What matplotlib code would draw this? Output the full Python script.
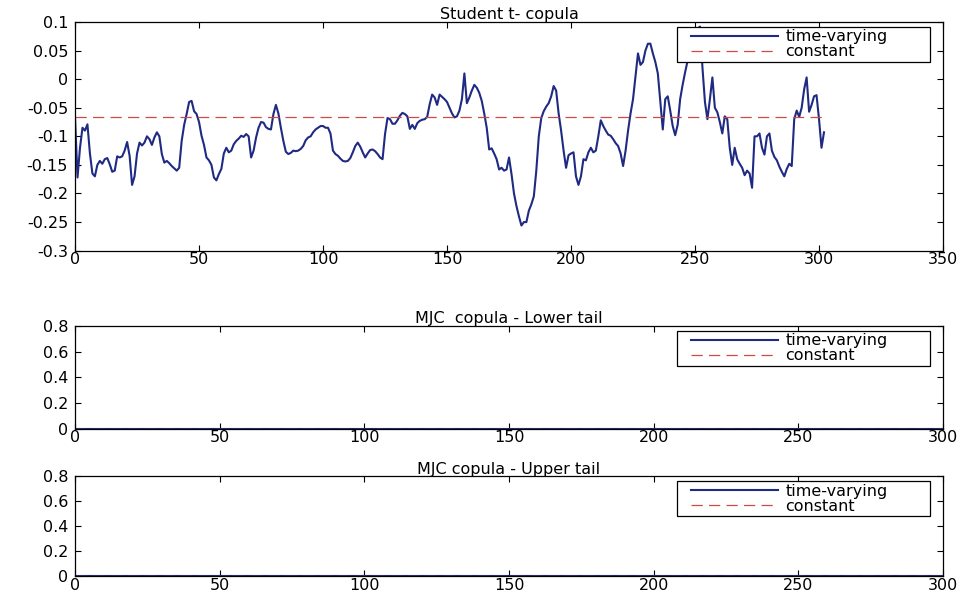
import matplotlib
matplotlib.use("Agg")
import matplotlib.pyplot as plt
from matplotlib.lines import Line2D
from matplotlib.legend_handler import HandlerLine2D
from matplotlib.ticker import FuncFormatter

# time-varying dependence parameter of the Student t copula (one value per period)
student_tv = [
    -0.068, -0.172, -0.120, -0.085, -0.090, -0.079, -0.130, -0.165, -0.170, -0.150,
    -0.143, -0.148, -0.140, -0.138, -0.149, -0.162, -0.160, -0.135, -0.137, -0.135,
    -0.125, -0.110, -0.134, -0.185, -0.170, -0.130, -0.111, -0.116, -0.111, -0.100,
    -0.105, -0.115, -0.102, -0.093, -0.100, -0.131, -0.146, -0.143, -0.147, -0.152,
    -0.156, -0.160, -0.155, -0.108, -0.080, -0.061, -0.040, -0.038, -0.056, -0.061,
    -0.075, -0.099, -0.115, -0.137, -0.142, -0.150, -0.172, -0.177, -0.166, -0.157,
    -0.130, -0.120, -0.128, -0.125, -0.114, -0.108, -0.104, -0.099, -0.101, -0.096,
    -0.100, -0.137, -0.125, -0.102, -0.085, -0.075, -0.076, -0.084, -0.087, -0.088,
    -0.061, -0.045, -0.060, -0.085, -0.108, -0.127, -0.131, -0.129, -0.125, -0.126,
    -0.125, -0.122, -0.117, -0.107, -0.102, -0.100, -0.093, -0.088, -0.085, -0.082,
    -0.082, -0.085, -0.085, -0.095, -0.125, -0.131, -0.134, -0.139, -0.143, -0.144,
    -0.143, -0.138, -0.128, -0.117, -0.111, -0.118, -0.128, -0.137, -0.130, -0.124,
    -0.123, -0.126, -0.131, -0.137, -0.140, -0.096, -0.068, -0.070, -0.078, -0.078,
    -0.072, -0.064, -0.059, -0.061, -0.065, -0.087, -0.080, -0.087, -0.077, -0.073,
    -0.071, -0.070, -0.066, -0.044, -0.027, -0.032, -0.045, -0.027, -0.031, -0.035,
    -0.040, -0.050, -0.060, -0.067, -0.065, -0.055, -0.035, 0.010, -0.042, -0.032,
    -0.020, -0.010, -0.015, -0.024, -0.038, -0.060, -0.085, -0.123, -0.121, -0.130,
    -0.140, -0.158, -0.155, -0.160, -0.158, -0.137, -0.166, -0.200, -0.222, -0.240,
    -0.256, -0.250, -0.250, -0.230, -0.219, -0.205, -0.160, -0.100, -0.068, -0.056,
    -0.048, -0.042, -0.030, -0.012, -0.020, -0.060, -0.090, -0.125, -0.155, -0.133,
    -0.130, -0.128, -0.170, -0.185, -0.170, -0.140, -0.142, -0.128, -0.120, -0.128,
    -0.125, -0.100, -0.072, -0.082, -0.090, -0.097, -0.099, -0.105, -0.112, -0.117,
    -0.130, -0.152, -0.125, -0.090, -0.060, -0.035, 0.005, 0.045, 0.025, 0.030,
    0.050, 0.062, 0.062, 0.045, 0.030, 0.010, -0.040, -0.088, -0.035, -0.030,
    -0.055, -0.082, -0.098, -0.080, -0.035, -0.010, 0.012, 0.032, 0.055, 0.070,
    0.080, 0.088, 0.092, 0.020, -0.040, -0.070, -0.035, 0.003, -0.050, -0.058,
    -0.075, -0.095, -0.065, -0.070, -0.120, -0.150, -0.120, -0.140, -0.148, -0.155,
    -0.168, -0.160, -0.165, -0.190, -0.100, -0.100, -0.095, -0.120, -0.132, -0.100,
    -0.095, -0.125, -0.136, -0.142, -0.153, -0.162, -0.170, -0.157, -0.148, -0.152,
    -0.070, -0.055, -0.066, -0.050, -0.018, 0.003, -0.057, -0.045, -0.030, -0.028,
    -0.070, -0.120, -0.093,
]
student_const = -0.066

# MJC copula tail dependence: both estimates stay at zero over the sample
n_obs = len(student_tv)
lower_tv = [0.0] * n_obs
lower_const = 0.0
upper_tv = [0.0] * n_obs
upper_const = 0.0

titles = ["Student t- copula", "MJC  copula - Lower tail", "MJC copula - Upper tail"]
legend_labels = ["time-varying", "constant"]

BLUE = "#1f2a82"
RED = "#cc4b46"
FONT = "DejaVu Sans"
FS = 11.5


def matlab_fmt(v, pos=None):
    s = f"{v:.2f}".rstrip("0").rstrip(".")
    if s in ("-0", ""):
        s = "0"
    return s


def draw_panel(ax, tv, const, title, xmax, xstep, ylim, ystep, leg_top):
    periods = list(range(len(tv)))
    ax.plot(periods, tv, color=BLUE, lw=1.5, label=legend_labels[0])
    ax.plot([0, len(tv) - 1], [const, const], color=RED, lw=0.9,
            dashes=(9, 5), label=legend_labels[1])
    ax.set_xlim(0, xmax)
    ax.set_ylim(*ylim)
    ax.set_xticks(range(0, xmax + 1, xstep))
    n_y = int(round((ylim[1] - ylim[0]) / ystep))
    ax.set_yticks([ylim[0] + k * ystep for k in range(n_y + 1)])
    ax.yaxis.set_major_formatter(FuncFormatter(matlab_fmt))
    ax.tick_params(direction="in", top=True, right=True, length=4,
                   width=0.8, labelsize=FS)
    ax.tick_params(axis="x", pad=1)
    ax.tick_params(axis="y", pad=5)
    for lab in ax.get_xticklabels() + ax.get_yticklabels():
        lab.set_fontfamily(FONT)
    for sp in ax.spines.values():
        sp.set_linewidth(0.9)
    ax.set_title(title, fontsize=FS, family=FONT, pad=2)
    # legend box stretched over the right part of the panel,
    # handle lines indented a little from the frame
    leg = ax.legend(loc="upper right", bbox_to_anchor=(0.6935, 0.0, 0.2915, leg_top),
                    mode="expand", handlelength=6.2, handletextpad=0.45,
                    borderpad=0.15, labelspacing=0.0, fancybox=False,
                    framealpha=1, edgecolor="black",
                    prop={"family": FONT, "size": FS}, borderaxespad=0.0,
                    handler_map={Line2D: HandlerLine2D(xpad=0.75)})
    leg.get_frame().set_linewidth(0.9)


fig = plt.figure(figsize=(9.67, 5.94), dpi=100)
left, width = 0.0776, 0.8976
ax1 = fig.add_axes([left, 0.578, width, 0.385])
ax2 = fig.add_axes([left, 0.278, width, 0.173])
ax3 = fig.add_axes([left, 0.030, width, 0.168])

draw_panel(ax1, student_tv, student_const, titles[0], 350, 50, (-0.3, 0.1), 0.05, 0.978)
draw_panel(ax2, lower_tv, lower_const, titles[1], 300, 50, (0, 0.8), 0.2, 0.952)
draw_panel(ax3, upper_tv, upper_const, titles[2], 300, 50, (0, 0.8), 0.2, 0.952)

fig.savefig("out.png", dpi=100)
